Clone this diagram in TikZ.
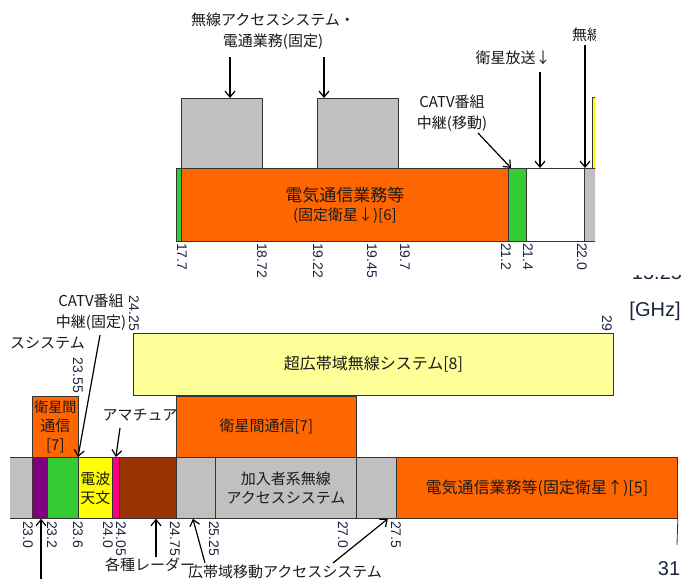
\documentclass[tikz,border=0pt]{standalone}
\usepackage{fontspec}
\setmainfont{Liberation Sans}
\newfontfamily\jp{Noto Sans CJK JP}
\usetikzlibrary{arrows.meta}
\definecolor{orng}{HTML}{FF6600}
\definecolor{grn}{HTML}{33CC33}
\definecolor{gry}{HTML}{C0C0C0}
\definecolor{ylw}{HTML}{FFFF00}
\definecolor{lyl}{HTML}{FFFF99}
\definecolor{prp}{HTML}{800080}
\definecolor{pnk}{HTML}{FF0080}
\definecolor{brn}{HTML}{993300}
\definecolor{numcol}{HTML}{1C2541}
\definecolor{txt}{HTML}{1A1A1A}
\newcommand\bandbox[7]{\node[bx,fill=#2,minimum width={(#5-#3)*1pt},minimum height={(#6-#4)*1pt}] (#1) at (#3,#4) {#7};}
\begin{document}
\begin{tikzpicture}[x=1pt,y=-1pt,
 bx/.style={draw=black!80,line width=0.8pt,inner sep=0pt,anchor=north west,align=center,font=\jp\fontsize{15pt}{19pt}\selectfont,text=txt},
 lbl/.style={font=\jp\fontsize{15pt}{21pt}\selectfont,text=txt,align=center,inner sep=0pt},
 tk/.style={font=\fontsize{14pt}{16pt}\selectfont,text=numcol,rotate=-90,inner sep=0pt},
 arr/.style={-{Straight Barb[length=6pt,width=10pt]},line width=1.2pt,black},
 big/.style={font=\fontsize{20pt}{22pt}\selectfont,text=numcol,inner sep=0pt}]
\useasboundingbox[fill=white] (0,0) rectangle (682,579);

% ---------------- upper part ----------------
\begin{scope}
\clip (0,0) rectangle (595,290);
\bandbox{g1}{grn}{176}{168}{181}{241}{}
\bandbox{o6}{orng}{181}{168}{508}{241}{\fontsize{17pt}{22pt}\selectfont 電気通信業務等\\(固定衛星↓)[6]}
\bandbox{gr1}{gry}{181}{98}{262}{168}{}
\bandbox{gr2}{gry}{317}{98}{398}{168}{}
\bandbox{g2}{grn}{508}{168}{526}{241}{}
\bandbox{wt}{white}{526}{168}{584}{241}{}
\bandbox{gr3}{gry}{584}{168}{625}{241}{}
\bandbox{yl0}{ylw}{592}{97}{625}{168}{}
\node[lbl,anchor=west] (t5) at (572,35) {無線アクセス};

\node[lbl] (t1) at (273,31) {無線アクセスシステム・\\電通業務(固定)};
\coordinate (c1) at (230,57);
\coordinate (c2) at (324,57);
\draw[arr] (c1) -- (c1 |- gr1.north);
\draw[arr] (c2) -- (c2 |- gr2.north);

\node[lbl] (t2) at (452,113) {CATV番組\\中継(移動)};
\coordinate (c3) at (478,133);
\draw[arr] (c3) -- ([xshift=3pt]g2.north west);

\node[lbl] (t3) at (513,58) {衛星放送↓};
\coordinate (c4) at (540,72);
\draw[arr] (c4) -- (c4 |- wt.north);

\coordinate (c5) at (585,45);
\draw[arr] (c5) -- (c5 |- gr3.north);

\foreach \x/\v in {182/17.7,262/18.72,318/19.22,372/19.45,405/19.7,506/21.2,528/21.4,582/22.0}
  \node[tk,anchor=west] at (\x,243) {\v};
\end{scope}

% ---------------- right labels ----------------
\begin{scope}
\clip (600,275) rectangle (682,300);
\node[big] (t15) at (657,273) {15.25};
\end{scope}
\node[big] (ghz) at (655,311) {[GHz]};

% ---------------- lower part ----------------
\begin{scope}
\clip (10,0) rectangle (682,579);
\bandbox{l0}{gry}{0}{457}{32}{518}{}
\end{scope}
\bandbox{pu}{prp}{32}{457}{47}{518}{}
\bandbox{gn}{grn}{47}{457}{78}{518}{}
\bandbox{yl}{ylw}{78}{457}{112}{518}{電波\\天文}
\bandbox{pk}{pnk}{112}{457}{119}{518}{}
\bandbox{br}{brn}{119}{457}{176}{518}{}
\bandbox{gA}{gry}{176}{457}{215}{518}{}
\bandbox{gB}{gry}{215}{457}{356}{518}{加入者系無線\\アクセスシステム}
\bandbox{gC}{gry}{356}{457}{396}{518}{}
\bandbox{o5}{orng}{396}{457}{677}{518}{\fontsize{16pt}{19pt}\selectfont 電気通信業務等(固定衛星↑)[5]}

\bandbox{o7a}{orng}{32}{396}{78}{457}{\fontsize{14pt}{18.5pt}\selectfont 衛星間\\通信\\{}[7]}
\bandbox{uwb}{lyl}{133}{333}{613}{395}{\fontsize{16pt}{19pt}\selectfont 超広帯域無線システム[8]}
\bandbox{o7b}{orng}{176}{396}{356}{457}{衛星間通信[7]}

\node[lbl,anchor=west] (t6) at (10,343) {スシステム};
\node[lbl] (t7) at (91,312) {CATV番組\\中継(固定)};
\coordinate (c6) at (100,335);
\draw[arr] (c6) -- (yl.north west);

\node[lbl] (t8) at (140,415) {アマチュア};
\coordinate (c7) at (120,428);
\draw[arr] (c7) -- (pk.north);

\coordinate (c8) at (41,579);
\draw[arr] (c8) -- (c8 |- pu.south);

\node[lbl] (t9) at (150,565) {各種レーダー};
\coordinate (c9) at (156,557);
\draw[arr] (c9) -- (c9 |- br.south);

\node[lbl] (t10) at (285,572) {広帯域移動アクセスシステム};
\coordinate (c10) at (205,563);
\coordinate (c11) at (333,563);
\draw[arr] (c10) -- ([xshift=-3pt]gA.south);
\draw[arr] (c11) -- ([xshift=-9pt]gC.south east);

\foreach \x/\v in {28/23.0,52/23.2,78/23.6,108/24.0,121/24.05,175/24.75,214/25.25,343/27.0,396/27.5}
  \node[tk,anchor=west] at (\x,521) {\v};
\node[tk,anchor=east] at (134,331) {24.25};
\node[tk,anchor=east] at (78,393) {23.55};
\node[tk,anchor=east] at (607,331) {29};

\coordinate (c12) at (677,545);
\draw[line width=0.8pt,black!80] (o5.south east) -- (c12);
\node[big] (t31) at (669,569) {31};
\end{tikzpicture}
\end{document}
